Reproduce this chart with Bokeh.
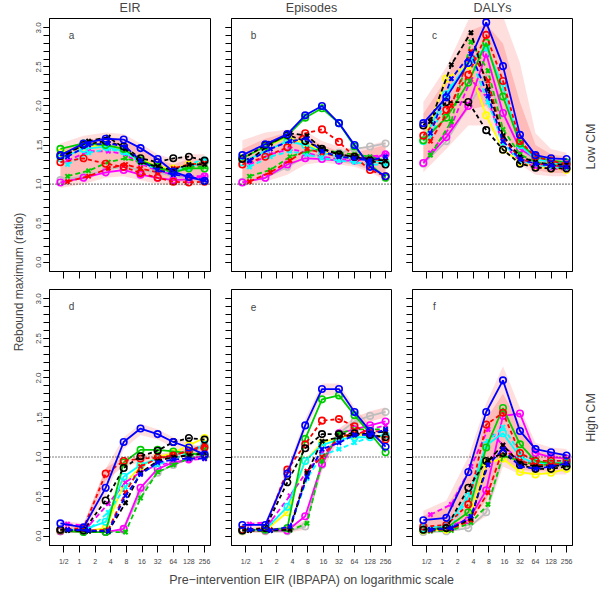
import numpy as np
from bokeh.plotting import figure
from bokeh.layouts import row, column
from bokeh.models import (Range1d, FixedTicker, Span, Label, PrintfTickFormatter,
                          CustomLabelingPolicy)
from bokeh.embed import file_html
from bokeh.resources import INLINE

FONT = "Liberation Sans"

# ---------------- data ----------------
TICK_EIR = [0.5, 1, 2, 4, 8, 16, 32, 64, 128, 256]
TICK_LABELS = ["1/2", "1", "2", "4", "8", "16", "32", "64", "128", "256"]
# pre-intervention EIR actually reached by the simulations (circle / cross series)
EIR_O = [0.43, 1.2, 3.2, 7.1, 15, 32, 64, 128, 256]
EIR_X = [0.59, 1.5, 3.6, 7.7, 15, 32, 64, 128, 256]
Y_TICKS = [0.0, 0.5, 1.0, 1.5, 2.0, 2.5, 3.0]
COL_TITLES = ["EIR", "Episodes", "DALYs"]
ROW_TITLES = ["Low CM", "High CM"]
PANELS = ["a", "b", "c", "d", "e", "f"]
Y_LABEL = "Rebound maximum (ratio)"
X_LABEL = "Pre\u2212intervention EIR (IBPAPA) on logarithmic scale"

# panel a: EIR, low CM
a_blk_o = [1.36, 1.50, 1.55, 1.48, 1.33, 1.28, 1.33, 1.35, 1.30]
a_blk_x = [1.38, 1.55, 1.60, 1.45, 1.28, 1.22, 1.18, 1.25, 1.25]
a_red_o = [1.28, 1.33, 1.26, 1.22, 1.14, 1.08, 1.03, 1.02, 1.03]
a_red_x = [1.03, 1.10, 1.20, 1.25, 1.20, 1.15, 1.20, 1.25, 1.27]
a_grn_o = [1.45, 1.52, 1.50, 1.45, 1.30, 1.22, 1.15, 1.20, 1.20]
a_grn_x = [1.10, 1.17, 1.28, 1.33, 1.28, 1.20, 1.15, 1.22, 1.22]
a_blu_o = [1.37, 1.52, 1.58, 1.57, 1.46, 1.32, 1.16, 1.09, 1.04]
a_blu_x = [1.35, 1.50, 1.52, 1.48, 1.30, 1.18, 1.12, 1.10, 1.05]
a_cyn_o = [1.33, 1.45, 1.48, 1.42, 1.30, 1.20, 1.15, 1.22, 1.28]
a_cyn_x = [1.25, 1.40, 1.45, 1.40, 1.28, 1.18, 1.18, 1.25, 1.32]
a_mag_o = [1.02, 1.08, 1.15, 1.18, 1.12, 1.08, 1.05, 1.06, 1.10]
a_mag_x = [1.30, 1.42, 1.42, 1.38, 1.26, 1.17, 1.12, 1.10, 1.10]
a_yel_o = [1.40, 1.48, 1.50, 1.45, 1.32, 1.22, 1.20, 1.25, 1.28]
a_gry_o = [1.05, 1.10, 1.18, 1.22, 1.18, 1.15, 1.10, 1.08, 1.05]

# panel b: Episodes, low CM
b_blk_o = [1.32, 1.50, 1.63, 1.55, 1.45, 1.38, 1.35, 1.30, 1.25]
b_blk_x = [1.30, 1.52, 1.65, 1.62, 1.45, 1.38, 1.35, 1.32, 1.30]
b_red_o = [1.25, 1.35, 1.47, 1.65, 1.70, 1.54, 1.35, 1.18, 1.10]
b_red_x = [1.03, 1.15, 1.30, 1.45, 1.40, 1.35, 1.33, 1.32, 1.30]
b_grn_o = [1.33, 1.48, 1.62, 1.85, 1.97, 1.78, 1.48, 1.25, 1.08]
b_grn_x = [1.10, 1.18, 1.35, 1.42, 1.45, 1.40, 1.38, 1.35, 1.30]
b_blu_o = [1.37, 1.51, 1.64, 1.88, 2.00, 1.78, 1.50, 1.22, 1.10]
b_blu_x = [1.30, 1.45, 1.55, 1.58, 1.42, 1.35, 1.33, 1.30, 1.35]
b_cyn_o = [1.28, 1.42, 1.55, 1.50, 1.40, 1.35, 1.33, 1.30, 1.28]
b_cyn_x = [1.22, 1.35, 1.42, 1.38, 1.33, 1.30, 1.28, 1.25, 1.25]
b_mag_o = [1.02, 1.08, 1.25, 1.33, 1.32, 1.30, 1.30, 1.32, 1.38]
b_mag_x = [1.25, 1.38, 1.45, 1.40, 1.35, 1.32, 1.32, 1.35, 1.38]
b_yel_o = [1.33, 1.48, 1.60, 1.52, 1.42, 1.35, 1.33, 1.30, 1.28]
b_gry_o = [1.03, 1.08, 1.22, 1.35, 1.38, 1.40, 1.45, 1.48, 1.52]

# panel c: DALYs, low CM
c_blk_o = [1.75, 2.05, 2.05, 1.69, 1.44, 1.26, 1.21, 1.20, 1.20]
c_blk_x = [1.80, 2.53, 2.94, 2.21, 1.62, 1.35, 1.28, 1.25, 1.25]
c_red_o = [1.62, 1.95, 2.40, 2.91, 2.32, 1.55, 1.35, 1.30, 1.25]
c_red_x = [1.55, 2.00, 2.70, 2.32, 1.60, 1.32, 1.26, 1.24, 1.22]
c_grn_o = [1.56, 1.85, 2.30, 2.81, 2.12, 1.52, 1.35, 1.30, 1.28]
c_grn_x = [1.37, 1.80, 2.82, 2.45, 1.70, 1.38, 1.28, 1.25, 1.22]
c_blu_o = [1.78, 2.11, 2.55, 3.07, 2.51, 1.63, 1.37, 1.33, 1.32]
c_blu_x = [1.65, 2.35, 2.67, 2.13, 1.55, 1.32, 1.26, 1.24, 1.22]
c_cyn_o = [1.55, 2.15, 2.55, 2.75, 2.25, 1.50, 1.32, 1.28, 1.25]
c_cyn_x = [1.60, 2.25, 2.60, 2.05, 1.52, 1.30, 1.25, 1.22, 1.20]
c_mag_o = [1.27, 1.60, 2.00, 2.67, 1.91, 1.45, 1.33, 1.28, 1.27]
c_mag_x = [1.40, 1.75, 2.34, 2.09, 1.50, 1.30, 1.22, 1.20, 1.18]
c_yel_o = [1.55, 2.35, 2.52, 1.88, 1.44, 1.28, 1.22, 1.20, 1.18]
c_gry_o = [1.26, 1.55, 2.00, 2.35, 1.90, 1.45, 1.30, 1.25, 1.22]

# panel d: EIR, high CM
d_blk_o = [0.08, 0.07, 0.45, 0.86, 1.01, 1.08, 1.19, 1.24, 1.22]
d_blk_x = [0.07, 0.06, 0.06, 0.42, 0.80, 0.95, 1.00, 1.02, 1.05]
d_red_o = [0.08, 0.10, 0.79, 0.95, 0.98, 0.99, 1.02, 1.08, 1.12]
d_red_x = [0.08, 0.07, 0.08, 0.55, 0.88, 0.98, 1.02, 1.08, 1.15]
d_grn_o = [0.07, 0.05, 0.05, 0.93, 1.09, 1.09, 1.07, 1.05, 1.02]
d_grn_x = [0.07, 0.06, 0.05, 0.05, 0.48, 0.81, 0.90, 0.98, 1.10]
d_blu_o = [0.16, 0.11, 0.61, 1.19, 1.36, 1.29, 1.19, 1.12, 1.03]
d_blu_x = [0.08, 0.07, 0.06, 0.51, 0.78, 0.93, 0.97, 0.98, 0.98]
d_cyn_o = [0.08, 0.08, 0.18, 0.75, 0.90, 0.98, 1.02, 1.08, 1.15]
d_cyn_x = [0.07, 0.08, 0.30, 0.62, 0.80, 0.90, 0.98, 1.05, 1.15]
d_mag_o = [0.06, 0.06, 0.05, 0.09, 0.61, 0.85, 0.93, 0.97, 1.02]
d_mag_x = [0.15, 0.13, 0.41, 0.68, 0.81, 0.90, 0.93, 0.96, 0.98]
d_yel_o = [0.06, 0.06, 0.10, 0.65, 0.88, 1.00, 1.05, 1.15, 1.24]
d_gry_o = [0.06, 0.05, 0.05, 0.08, 0.55, 0.80, 0.90, 0.98, 1.05]

# panel e: Episodes, high CM
e_blk_o = [0.07, 0.10, 0.68, 1.11, 1.29, 1.29, 1.30, 1.28, 1.25]
e_blk_x = [0.07, 0.07, 0.08, 0.80, 1.20, 1.25, 1.28, 1.30, 1.32]
e_red_o = [0.08, 0.10, 0.84, 1.16, 1.46, 1.48, 1.39, 1.30, 1.22]
e_red_x = [0.07, 0.08, 0.10, 0.82, 1.00, 1.25, 1.30, 1.32, 1.33]
e_grn_o = [0.08, 0.08, 0.10, 1.23, 1.73, 1.78, 1.53, 1.30, 1.06]
e_grn_x = [0.07, 0.07, 0.07, 0.16, 0.95, 1.30, 1.35, 1.35, 1.35]
e_blu_o = [0.14, 0.14, 0.79, 1.40, 1.86, 1.86, 1.57, 1.33, 1.13]
e_blu_x = [0.08, 0.07, 0.12, 0.75, 1.10, 1.18, 1.28, 1.28, 1.35]
e_cyn_o = [0.07, 0.08, 0.37, 0.95, 1.15, 1.22, 1.25, 1.25, 1.28]
e_cyn_x = [0.07, 0.07, 0.10, 0.73, 1.02, 1.10, 1.18, 1.25, 1.28]
e_mag_o = [0.07, 0.07, 0.07, 0.25, 0.91, 1.30, 1.35, 1.40, 1.45]
e_mag_x = [0.15, 0.18, 0.51, 0.82, 1.05, 1.20, 1.28, 1.35, 1.40]
e_yel_o = [0.06, 0.07, 0.30, 0.95, 1.18, 1.25, 1.28, 1.28, 1.25]
e_gry_o = [0.06, 0.06, 0.06, 0.12, 0.90, 1.30, 1.45, 1.52, 1.57]

# panel f: DALYs, high CM
f_blk_o = [0.08, 0.10, 0.61, 0.95, 1.05, 0.90, 0.85, 0.85, 0.88]
f_blk_x = [0.08, 0.10, 0.22, 0.95, 1.15, 0.92, 0.88, 0.88, 0.90]
f_red_o = [0.12, 0.14, 0.40, 1.41, 1.56, 1.05, 0.95, 0.95, 0.95]
f_red_x = [0.07, 0.09, 0.20, 0.55, 1.10, 0.95, 0.90, 0.90, 0.92]
f_grn_o = [0.08, 0.10, 0.30, 1.12, 1.62, 1.16, 0.95, 0.92, 0.92]
f_grn_x = [0.06, 0.07, 0.17, 0.40, 1.02, 0.95, 0.90, 0.90, 0.90]
f_blu_o = [0.20, 0.23, 0.81, 1.57, 1.97, 1.33, 1.10, 1.06, 1.02]
f_blu_x = [0.08, 0.10, 0.25, 0.90, 1.10, 0.88, 0.85, 0.88, 0.92]
f_cyn_o = [0.10, 0.13, 0.50, 1.15, 1.30, 1.00, 0.92, 0.92, 0.93]
f_cyn_x = [0.08, 0.12, 0.55, 1.20, 1.38, 1.05, 0.95, 0.95, 0.95]
f_mag_o = [0.10, 0.12, 0.20, 0.58, 1.52, 1.55, 1.05, 1.00, 0.98]
f_mag_x = [0.27, 0.40, 0.88, 1.35, 1.15, 0.95, 0.92, 0.92, 0.92]
f_yel_o = [0.07, 0.08, 0.20, 0.92, 0.98, 0.81, 0.78, 0.80, 0.85]
f_gry_o = [0.05, 0.06, 0.10, 0.30, 1.00, 0.95, 0.92, 0.90, 0.88]

# uncertainty envelopes (outer / inner)
a_out_lo = [0.95, 1.00, 1.08, 1.10, 1.05, 1.00, 0.98, 0.98, 0.98]
a_out_hi = [1.52, 1.62, 1.66, 1.64, 1.52, 1.38, 1.32, 1.38, 1.38]
a_in_lo = [1.00, 1.10, 1.20, 1.22, 1.15, 1.08, 1.03, 1.03, 1.03]
a_in_hi = [1.42, 1.55, 1.60, 1.58, 1.45, 1.32, 1.25, 1.32, 1.32]
b_out_lo = [0.97, 1.03, 1.12, 1.25, 1.28, 1.25, 1.22, 1.15, 1.05]
b_out_hi = [1.56, 1.66, 1.70, 1.68, 1.55, 1.48, 1.45, 1.50, 1.55]
b_in_lo = [1.00, 1.10, 1.22, 1.32, 1.32, 1.28, 1.25, 1.18, 1.08]
b_in_hi = [1.45, 1.58, 1.66, 1.62, 1.50, 1.42, 1.40, 1.45, 1.50]
c_out_lo = [1.15, 1.45, 1.75, 1.75, 1.55, 1.25, 1.12, 1.10, 1.10]
c_out_hi = [2.05, 2.50, 3.10, 3.20, 3.15, 2.55, 1.65, 1.45, 1.40]
c_in_lo = [1.25, 1.60, 1.95, 2.00, 1.70, 1.32, 1.18, 1.14, 1.14]
c_in_hi = [1.90, 2.35, 2.95, 3.05, 2.80, 2.05, 1.50, 1.38, 1.35]
d_out_lo = [0.10, 0.06, 0.50, 1.10, 1.28, 1.22, 1.12, 1.06, 0.98]
d_out_hi = [0.20, 0.16, 0.85, 1.25, 1.42, 1.35, 1.25, 1.18, 1.10]
d_in_lo = [0.04, 0.04, 0.70, 0.88, 0.93, 0.95, 0.98, 1.02, 1.06]
d_in_hi = [0.12, 0.14, 0.86, 1.00, 1.03, 1.04, 1.07, 1.12, 1.17]
e_out_lo = [0.10, 0.10, 0.72, 1.32, 1.78, 1.78, 1.50, 1.28, 1.08]
e_out_hi = [0.18, 0.18, 0.86, 1.48, 1.93, 1.93, 1.63, 1.40, 1.18]
e_in_lo = [0.04, 0.04, 0.04, 0.08, 0.82, 1.22, 1.38, 1.45, 1.50]
e_in_hi = [0.09, 0.09, 0.09, 0.20, 0.98, 1.36, 1.50, 1.58, 1.63]
f_out_lo = [0.04, 0.06, 0.10, 0.25, 0.88, 0.78, 0.78, 0.78, 0.78]
f_out_hi = [0.32, 0.45, 1.00, 1.68, 2.15, 1.62, 1.18, 1.12, 1.10]
f_in_lo = [0.06, 0.08, 0.18, 0.45, 0.98, 0.84, 0.82, 0.82, 0.82]
f_in_hi = [0.26, 0.36, 0.82, 1.48, 1.80, 1.42, 1.08, 1.04, 1.04]

# series styles: key, colour, marker, dash (drawing order)
STYLES = [
    ("gry_o", "#bebebe", "circle", "solid"),
    ("yel_o", "#ffff00", "circle", "solid"),
    ("mag_o", "#ff00ff", "circle", "solid"),
    ("mag_x", "#ff00ff", "x", "5 3"),
    ("cyn_o", "#00ffff", "circle", "solid"),
    ("cyn_x", "#00ffff", "x", "5 3"),
    ("grn_x", "#00cd00", "x", "5 3"),
    ("grn_o", "#00cd00", "circle", "solid"),
    ("red_x", "#ff0000", "x", "5 3"),
    ("red_o", "#ff0000", "circle", "4 3"),
    ("blk_x", "#000000", "x", "5 3"),
    ("blk_o", "#000000", "circle", "4 3"),
    ("blu_x", "#0000ff", "x", "5 3"),
    ("blu_o", "#0000ff", "circle", "solid"),
]

G = globals()
xo = np.log2(EIR_O)
xx = np.log2(EIR_X)
xt = [float(v) for v in np.log2(TICK_EIR)]

FW = [161, 160, 160]
FH = 256
LB = [21, 20, 20]
RB = [1, 1, 1]
TB = [1, 7]
BB = [8, 25]
YLAB_W = 28
RLAB_W = 26
TITLE_H = 17
XLAB_H = 18

HIDE = "for (const i of Array.from(indices)) { indices.unset(i) }\nreturn indices"


def hide_labels(ax):
    ax.major_label_text_font_size = "1px"
    ax.major_label_standoff = 0
    ax.major_label_policy = CustomLabelingPolicy(code=HIDE)


def strip(w, h):
    s = figure(width=w, height=h, x_range=Range1d(0, 1), y_range=Range1d(0, 1),
               output_backend="svg", toolbar_location=None, x_axis_type=None, y_axis_type=None,
               min_border_left=0, min_border_right=0, min_border_top=0, min_border_bottom=0)
    s.outline_line_color = None
    s.grid.visible = False
    return s


figs = []
for i, letter in enumerate(PANELS):
    r, c = divmod(i, 3)
    p = figure(width=LB[c] + FW[c] + RB[c], height=TB[r] + FH + BB[r],
               x_range=Range1d(-1.915, 8.38), y_range=Range1d(-0.12, 3.12),
               output_backend="svg", toolbar_location=None,
               min_border_left=LB[c], min_border_right=RB[c],
               min_border_top=TB[r], min_border_bottom=BB[r])
    p.grid.visible = False
    p.outline_line_color = "black"
    p.outline_line_width = 1
    p.background_fill_color = "white"
    p.border_fill_color = "white"

    # bands
    p.varea(x=xo, y1=G[f"{letter}_out_lo"], y2=G[f"{letter}_out_hi"], fill_color="#ff0000", fill_alpha=0.13)
    p.varea(x=xo, y1=G[f"{letter}_in_lo"], y2=G[f"{letter}_in_hi"], fill_color="#ff0000", fill_alpha=0.16)

    p.add_layout(Span(location=1.0, dimension="width", line_color="black", line_dash="1 2", line_width=1.2))

    for key, col, mk, dash in STYLES:
        ys = G[f"{letter}_{key}"]
        xs = xx if mk == "x" else xo
        p.line(xs, ys, line_color=col, line_width=1.8, line_dash=dash)
        if mk == "x":
            p.scatter(xs, ys, marker="x", size=6, line_color=col, line_width=2)
        else:
            p.scatter(xs, ys, marker="circle", size=6.5, fill_color=None, line_color=col, line_width=1.6)

    p.add_layout(Label(x=-0.5, y=2.9, text=letter, text_align="center", text_baseline="middle",
                       text_font=FONT, text_font_size="10px"))

    # x axis
    xa = p.xaxis[0]
    xa.ticker = FixedTicker(ticks=xt, minor_ticks=[])
    xa.major_tick_out = 7
    xa.major_tick_in = 0
    xa.minor_tick_out = 0
    xa.axis_line_color = "black"
    if r == 1:
        xa.major_label_overrides = {t: lab for t, lab in zip(xt, TICK_LABELS)}
        xa.major_label_text_font = FONT
        xa.major_label_text_font_size = "7px"
        xa.major_label_standoff = 5
    else:
        hide_labels(xa)

    # y axis
    ya = p.yaxis[0]
    ya.ticker = FixedTicker(ticks=Y_TICKS, minor_ticks=[round(0.1 * k, 1) for k in range(31)])
    ya.formatter = PrintfTickFormatter(format="%.1f")
    ya.major_tick_out = 6
    ya.major_tick_in = 0
    ya.minor_tick_out = 6
    ya.minor_tick_in = 0
    ya.axis_line_color = "black"
    if c == 0:
        ya.major_label_orientation = "vertical"
        ya.major_label_text_font = FONT
        ya.major_label_text_font_size = "8px"
        ya.major_label_standoff = 2
    else:
        hide_labels(ya)
    figs.append(p)

GRID_W = sum(LB) + sum(FW) + sum(RB)
ROW0_H = TB[0] + FH + BB[0]
ROW1_H = TB[1] + FH + BB[1]
TOTAL_H = TITLE_H + ROW0_H + ROW1_H + XLAB_H

# column titles
titles = strip(GRID_W, TITLE_H)
left = 0
for c in range(3):
    titles.add_layout(Label(x=left + LB[c] + FW[c] / 2, y=TITLE_H - 7, x_units="screen", y_units="screen",
                            text=COL_TITLES[c], text_align="center", text_baseline="middle",
                            text_font=FONT, text_font_size="12.5px"))
    left += LB[c] + FW[c] + RB[c]

# row titles on the right
rlab = strip(RLAB_W, TOTAL_H)
row_centers = [TITLE_H + TB[0] + FH / 2, TITLE_H + ROW0_H + TB[1] + FH / 2]
for r in range(2):
    rlab.add_layout(Label(x=17, y=TOTAL_H - row_centers[r], x_units="screen", y_units="screen",
                          text=ROW_TITLES[r], angle=np.pi / 2, text_align="center", text_baseline="middle",
                          text_font=FONT, text_font_size="12.5px"))

# y label
ylab = strip(YLAB_W, TOTAL_H)
ylab.add_layout(Label(x=18, y=TOTAL_H - (TITLE_H + TB[0] + FH + (BB[0] + TB[1]) / 2), x_units="screen",
                      y_units="screen", text=Y_LABEL, angle=np.pi / 2, text_align="center",
                      text_baseline="middle", text_font=FONT, text_font_size="12px"))

# x label
xlab = strip(GRID_W, XLAB_H)
xlab.add_layout(Label(x=LB[0] + FW[0] + RB[0] + LB[1] + FW[1] / 2, y=XLAB_H / 2, x_units="screen",
                      y_units="screen", text=X_LABEL, text_align="center", text_baseline="middle",
                      text_font=FONT, text_font_size="12.5px"))

layout = row(ylab, column(titles, row(*figs[:3]), row(*figs[3:]), xlab), rlab)
open("out.html", "w").write(file_html(layout, INLINE))
